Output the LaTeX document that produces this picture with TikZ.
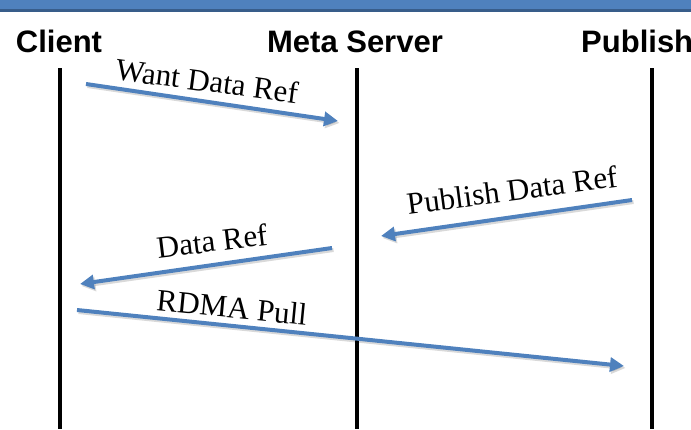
\documentclass[tikz,border=0pt]{standalone}
\usepackage{fontspec}
\setmainfont{Liberation Serif}
\newfontfamily\hdrfont{Liberation Sans}
\usetikzlibrary{arrows.meta}
\definecolor{barblue}{RGB}{79,129,189}
\definecolor{bardark}{RGB}{56,93,138}
\definecolor{arrowblue}{RGB}{79,129,189}
\tikzset{
  lifeline/.style={line width=4.5pt, black},
  header/.style={font=\hdrfont\bfseries\fontsize{31}{31}\selectfont, inner sep=0pt},
  msglabel/.style={font=\fontsize{31}{31}\selectfont, inner sep=0pt},
  msg/.style={line width=4pt, arrowblue, -{Triangle[length=14pt,width=14pt]},
    preaction={draw=black, opacity=0.15, line width=4pt,
      transform canvas={shift={(1.5pt,-2pt)}}}}
}
\begin{document}
\begin{tikzpicture}[x=1pt,y=-1pt]
\useasboundingbox (0,0) rectangle (691,429);
% top bar
\fill[barblue] (0,0) rectangle (691,8.5);
\fill[bardark] (0,8.5) rectangle (691,12.3);
% headers
\node[header, anchor=base] (hclient) at (59,52) {Client};
\node[header, anchor=base] (hmeta) at (355,52) {Meta Server};
\node[header, anchor=base west] (hpub) at (581,52) {Publish};
% lifelines
\coordinate (c0) at (60,68);  \coordinate (c1) at (60,429);
\coordinate (m0) at (357,68); \coordinate (m1) at (357,429);
\coordinate (p0) at (652,68); \coordinate (p1) at (652,429);
\draw[lifeline] (c0) -- (c1);
\draw[lifeline] (m0) -- (m1);
\draw[lifeline] (p0) -- (p1);
% message end points
\coordinate (a1s) at (86,84);   \coordinate (a1e) at (338,121);
\coordinate (a2s) at (632,200); \coordinate (a2e) at (381,236);
\coordinate (a3s) at (332,248); \coordinate (a3e) at (80,284);
\coordinate (a4s) at (77,310);  \coordinate (a4e) at (624,366);
\draw[msg] (a1s) -- (a1e);
\draw[msg] (a2s) -- (a2e);
\draw[msg] (a3s) -- (a3e);
\draw[msg] (a4s) -- (a4e);
% labels
\node[msglabel, rotate=-7.5] (l1) at (207,81) {Want Data Ref};
\node[msglabel, rotate=7.5] (l2) at (512,190) {Publish Data Ref};
\node[msglabel, rotate=7] (l3) at (212,241) {Data Ref};
\node[msglabel, rotate=-5.5] (l4) at (232,307.5) {RDMA Pull};
\end{tikzpicture}
\end{document}
